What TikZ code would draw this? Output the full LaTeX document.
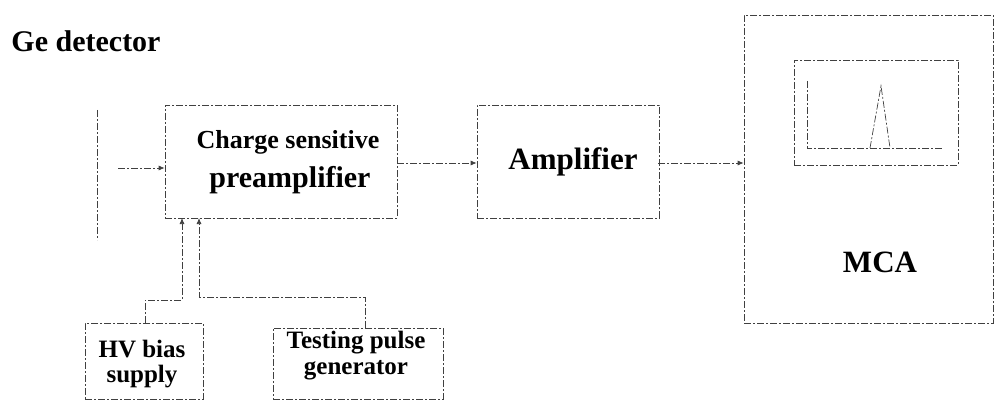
\documentclass[tikz,border=0pt]{standalone}
\usepackage{fontspec}
\setmainfont{Liberation Serif}
\usetikzlibrary{arrows.meta}
\begin{document}
\begin{tikzpicture}[x=1pt,y=-1pt,
  ln/.style={draw=black!75,line width=0.7pt,dash pattern=on 7pt off 2pt on 2pt off 2pt},
  box/.style={ln,inner sep=0pt},
  arr/.style={ln,-{Latex[length=6pt,width=5pt]}},
  lbl/.style={anchor=base,inner sep=0pt,font=\bfseries}]
\useasboundingbox (0,0) rectangle (995,401);
% boxes
\node[box,minimum width=232pt,minimum height=113pt] (pre) at (281,161.5) {};
\node[box,minimum width=182pt,minimum height=113pt] (amp) at (568,161.5) {};
\node[box,minimum width=249pt,minimum height=308pt] (mca) at (868.5,169) {};
\node[box,minimum width=164pt,minimum height=105pt] (scr) at (876,112.5) {};
\node[box,minimum width=118pt,minimum height=76pt] (hv) at (144,361) {};
\node[box,minimum width=170pt,minimum height=71pt] (tpg) at (358,363.5) {};
% detector
\coordinate (d1) at (97,110);
\coordinate (d2) at (97,240);
\draw[ln] (d1) -- (d2);
\coordinate (dout) at (118,168);
\draw[arr] (dout) -- (pre.west |- dout);
% texts
\node[lbl,font=\fontsize{30}{30}\bfseries] (tge) at (86,52) {Ge detector};
\node[lbl,font=\fontsize{26}{26}\bfseries] (tcs) at (288,148) {Charge sensitive};
\node[lbl,font=\fontsize{30}{30}\bfseries] (tpa) at (290,187) {preamplifier};
\node[lbl,font=\fontsize{31}{31}\bfseries] (tam) at (573,169) {Amplifier};
\node[lbl,font=\fontsize{31}{31}\bfseries] (tmc) at (880,272) {MCA};
\node[lbl,font=\fontsize{25}{25}\bfseries] (thv1) at (142,357) {HV bias};
\node[lbl,font=\fontsize{25}{25}\bfseries] (thv2) at (142,382) {supply};
\node[lbl,font=\fontsize{25}{25}\bfseries] (ttp1) at (356,348) {Testing pulse};
\node[lbl,font=\fontsize{25}{25}\bfseries] (ttp2) at (356,374) {generator};
% spectrum
\coordinate (ax1) at (807,81);
\coordinate (ax0) at (807,148);
\coordinate (ax2) at (942,148);
\draw[ln] (ax1) -- (ax0) -- (ax2);
\coordinate (p0) at (870,148);
\coordinate (p1) at (881,86);
\coordinate (p2) at (890,148);
\draw[ln] (p0) -- (p1) -- (p2);
% signal chain
\coordinate (s1) at (397,163);
\draw[arr] (s1) -- (amp.west |- s1);
\coordinate (s2) at (658,163);
\draw[arr] (s2) -- (mca.west |- s2);
% supplies
\coordinate (hvup) at (145,323);
\draw[arr] (hvup) -- (145,300) -- (182,300) -- (182,218);
\coordinate (tpup) at (365,328);
\draw[arr] (tpup) -- (365,297) -- (199,297) -- (199,218);
\end{tikzpicture}
\end{document}
